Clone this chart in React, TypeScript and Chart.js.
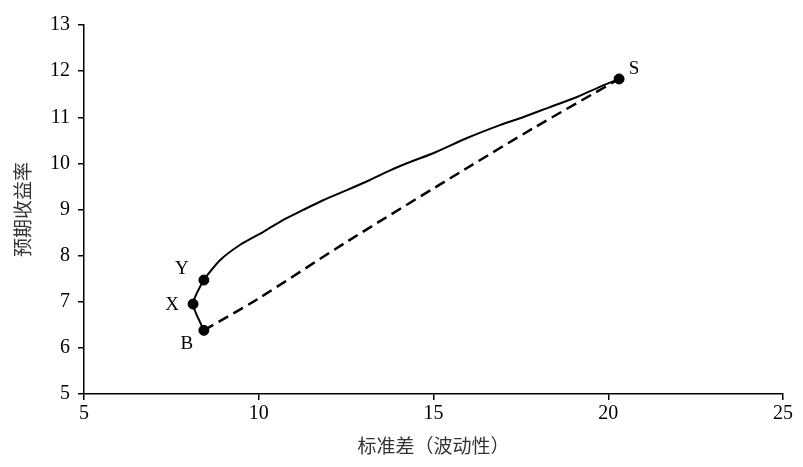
import React, { useEffect, useRef } from "react";
import { Chart, registerables } from "chart.js";

Chart.register(...registerables);

// Efficient-frontier style curve (solid): std dev (x), expected return (y)
const curveX = [8.43, 8.12, 8.43, 8.89, 9.46, 10.12, 10.69, 11.27, 11.84, 12.52, 13.18, 13.76, 14.33, 14.99, 15.96, 16.9, 17.56, 18.33, 19.11, 19.76, 20.31];
const curveY = [6.38, 6.95, 7.47, 7.9, 8.23, 8.51, 8.77, 8.99, 9.2, 9.42, 9.64, 9.85, 10.03, 10.22, 10.55, 10.83, 11.0, 11.22, 11.44, 11.66, 11.83];

// Dashed line B -> S
const dashX = [8.43, 9.95, 12.52, 15.96, 17.85, 20.31];
const dashY = [6.38, 7.05, 8.3, 9.9, 10.76, 11.83];

// Labelled portfolios
const pointNames = ["B", "X", "Y", "S"];
const pointX = [8.43, 8.12, 8.43, 20.31];
const pointY = [6.38, 6.95, 7.47, 11.83];

const xTicks = [5, 10, 15, 20, 25];
const yTicks = [5, 6, 7, 8, 9, 10, 11, 12, 13];

const xTitle = "标准差（波动性）";
const yTitle = "预期收益率";

const SERIF = "'Liberation Serif', 'DejaVu Serif', serif";
const CJK = "'Noto Sans CJK SC', sans-serif";

// label offsets (pixels) relative to each marker
const labelOffsets: Record<string, [number, number]> = {
  B: [-17, 14],
  X: [-21, 1],
  Y: [-22, -11],
  S: [15, -10],
};

const labelPlugin = {
  id: "pointLabels",
  afterDatasetsDraw(chart: any) {
    const ctx = chart.ctx;
    const xs = chart.scales.x;
    const ys = chart.scales.y;
    ctx.save();
    ctx.fillStyle = "#000";
    ctx.font = `19px ${SERIF}`;
    ctx.textAlign = "center";
    ctx.textBaseline = "middle";
    pointNames.forEach((n, i) => {
      const px = xs.getPixelForValue(pointX[i]);
      const py = ys.getPixelForValue(pointY[i]);
      const off = labelOffsets[n];
      ctx.fillText(n, px + off[0], py + off[1]);
    });
    ctx.restore();
  },
};

export default function App() {
  const ref = useRef<HTMLCanvasElement>(null);
  useEffect(() => {
    document.body.style.margin = "0";
    if (!ref.current) return;
    const chart = new Chart(ref.current, {
      type: "scatter",
      data: {
        datasets: [
          {
            data: curveX.map((x, i) => ({ x, y: curveY[i] })),
            showLine: true,
            borderColor: "#000",
            borderWidth: 2,
            pointRadius: 0,
            tension: 0.2,
            fill: false,
          },
          {
            data: dashX.map((x, i) => ({ x, y: dashY[i] })),
            showLine: true,
            borderColor: "#000",
            borderWidth: 2.5,
            borderDash: [11, 6],
            pointRadius: 0,
            tension: 0.3,
            fill: false,
          },
          {
            data: pointX.map((x, i) => ({ x, y: pointY[i] })),
            showLine: false,
            pointRadius: 5,
            pointBackgroundColor: "#000",
            pointBorderColor: "#000",
          },
        ],
      },
      options: {
        animation: false,
        responsive: false,
        maintainAspectRatio: false,
        layout: { padding: { top: 25, right: 20, left: 0, bottom: 0 } },
        plugins: { legend: { display: false }, tooltip: { enabled: false } },
        scales: {
          x: {
            type: "linear",
            min: 5,
            max: 25,
            afterBuildTicks: (s: any) => {
              s.ticks = xTicks.map((v) => ({ value: v }));
            },
            afterFit: (s: any) => {
              s.height = 73;
            },
            border: { color: "#000", width: 1.5 },
            grid: { drawOnChartArea: false, drawTicks: true, tickLength: 6, color: "#000", lineWidth: 1.5 },
            ticks: { color: "#000", font: { family: SERIF, size: 20 }, padding: 2, maxRotation: 0 },
            title: { display: true, text: xTitle, color: "#333", font: { family: CJK, size: 19 }, padding: { top: 4, bottom: 10 } },
          },
          y: {
            type: "linear",
            min: 5,
            max: 13,
            afterBuildTicks: (s: any) => {
              s.ticks = yTicks.map((v) => ({ value: v }));
            },
            afterFit: (s: any) => {
              s.width = 84;
            },
            border: { color: "#000", width: 1.5 },
            grid: { drawOnChartArea: false, drawTicks: true, tickLength: 6, color: "#000", lineWidth: 1.5 },
            ticks: { color: "#000", font: { family: SERIF, size: 20 }, padding: 8 },
            title: { display: true, text: yTitle, color: "#333", font: { family: CJK, size: 19 }, padding: { top: 11, bottom: 4 } },
          },
        },
      },
      plugins: [labelPlugin],
    });
    return () => chart.destroy();
  }, []);
  return (
    <div style={{ width: 803, height: 467 }}>
      <canvas ref={ref} width={803} height={467} style={{ width: 803, height: 467, display: "block" }} />
    </div>
  );
}
